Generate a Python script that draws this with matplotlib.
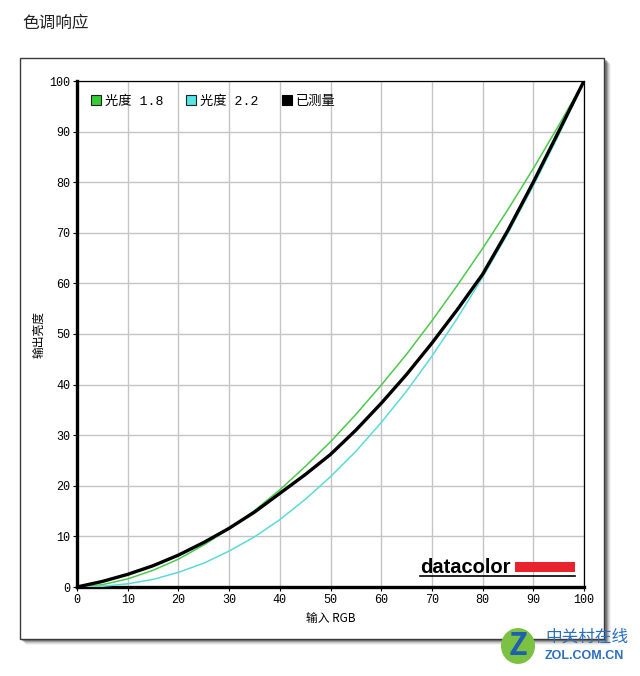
import matplotlib
matplotlib.use('Agg')
import matplotlib.pyplot as plt
import matplotlib.patches as patches

plt.rcParams['font.family'] = ['Noto Sans CJK SC', 'DejaVu Sans']

# data
x_in = [0, 5, 10, 15, 20, 25, 30, 35, 40, 45, 50, 55, 60, 65, 70, 75, 80, 85, 90, 95, 100]
gamma18 = [0, 0.46, 1.6, 3.3, 5.5, 8.3, 11.5, 15.1, 19.2, 23.8, 28.7, 34.1, 39.9, 46.0, 52.6,
           59.6, 66.9, 74.6, 82.7, 91.2, 100]
gamma22 = [0, 0.14, 0.63, 1.5, 2.9, 4.7, 7.1, 9.9, 13.3, 17.3, 21.8, 26.8, 32.5, 38.7, 45.6,
           53.1, 61.2, 69.9, 79.3, 89.3, 100]
measured = [0, 1.1, 2.5, 4.2, 6.3, 8.8, 11.6, 14.8, 18.5, 22.2, 26.2, 31.0, 36.3, 42.0, 48.2,
            54.8, 61.8, 70.5, 80.0, 90.0, 100]
legend_labels = ['光度 1.8', '光度 2.2', '已测量']
ticks = list(range(0, 101, 10))

W, H = 640, 676


def fx(px):
    return px / W


def fy(py):
    return 1 - py / H


fig = plt.figure(figsize=(6.4, 6.76), dpi=100)
fig.patch.set_facecolor('white')

# title
fig.text(fx(22), fy(23), '色调响应', fontsize=12, ha='left', va='center', color='#222222')

# frame shadow + frame
for i, a in enumerate([0.05, 0.08, 0.12, 0.18, 0.25]):
    off = 6 - i
    fig.patches.append(patches.Rectangle((fx(20 + off), fy(639 + off)), fx(585), 581 / H,
                                         transform=fig.transFigure, facecolor='#000000',
                                         edgecolor='none', alpha=a, zorder=0))
fig.patches.append(patches.Rectangle((fx(20), fy(639)), fx(584), 581 / H,
                                     transform=fig.transFigure, facecolor='white',
                                     edgecolor='#3a3a3a', linewidth=1.0, zorder=1))

ax = fig.add_axes([fx(77), fy(587), fx(584 - 77), (587 - 81) / H])
ax.set_zorder(2)
ax.set_xlim(0, 100)
ax.set_ylim(0, 100)
ax.set_xticks(ticks)
ax.set_yticks(ticks)
ax.grid(True, color='#c4c4c4', linewidth=1.0)
ax.set_axisbelow(True)

ax.plot(x_in, gamma18, color='#4cc94c', linewidth=1.1, zorder=3)
ax.plot(x_in, gamma22, color='#5cdada', linewidth=1.1, zorder=3)
ax.plot(x_in, measured, color='black', linewidth=2.4, zorder=4, solid_joinstyle='round')

for side in ['left', 'bottom']:
    ax.spines[side].set_linewidth(2.4)
for side in ['top', 'right']:
    ax.spines[side].set_linewidth(0.9)

ax.tick_params(length=3, width=0.8, pad=2, labelsize=8.5)
for lab in ax.get_xticklabels() + ax.get_yticklabels():
    lab.set_family('Liberation Mono')

ax.set_xlabel('输入 RGB', fontsize=8.5, labelpad=4,
              family=['Noto Sans CJK SC', 'Liberation Mono'])
ax.set_ylabel('输出亮度', fontsize=8.5, labelpad=3)

# legend
handles = [patches.Patch(facecolor='#33cc33', edgecolor='#222222', linewidth=0.8),
           patches.Patch(facecolor='#55e5e5', edgecolor='#222222', linewidth=0.8),
           patches.Patch(facecolor='black', edgecolor='black', linewidth=0.8)]
ax.legend(handles, legend_labels, loc='upper left', ncol=3, frameon=False,
          bbox_to_anchor=(0.004, 0.995), handlelength=0.75, handleheight=0.75,
          handletextpad=0.3, columnspacing=1.75,
          prop={'family': ['Liberation Mono', 'Noto Sans CJK SC'], 'size': 9.5})

# datacolor logo
ax.text(67.6, 2.7, 'datacolor', fontsize=14.5, fontweight='bold', family='Liberation Sans',
        ha='left', va='baseline', zorder=5)
ax.add_patch(patches.Rectangle((86.4, 2.9), 11.8, 2.0, facecolor='#e8232e', edgecolor='none', zorder=5))
ax.plot([67.6, 98.2], [2.2, 2.2], color='black', linewidth=1.2, zorder=5)

# watermark
fig.patches.append(patches.Circle((fx(518), fy(646)), 17 / W, transform=fig.transFigure,
                                  facecolor='#7cc242', edgecolor='none', zorder=6))
fig.text(fx(518), fy(646), 'Z', fontsize=22, fontweight='bold', color='#1f5fb0',
         ha='center', va='center', zorder=7)
fig.text(fx(545), fy(637), '中关村在线', fontsize=12, color='#2a6fc0', ha='left', va='center', zorder=7)
fig.text(fx(545), fy(656), 'ZOL.COM.CN', fontsize=9, fontweight='bold', color='#2a6fc0',
         ha='left', va='center', family='Liberation Sans', zorder=7)

fig.savefig('out.png', dpi=100, facecolor='white')
